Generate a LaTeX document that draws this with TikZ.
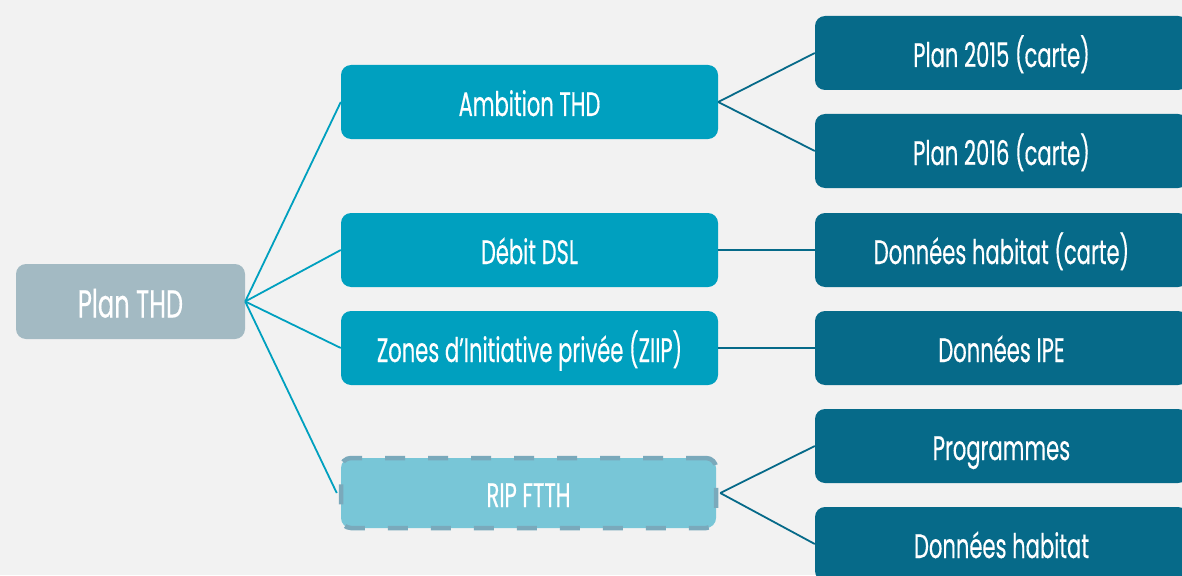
\documentclass[tikz,border=0pt]{standalone}
\usepackage{fontspec}
\setmainfont{Poppins}[FakeStretch=0.62, FakeBold=0.35]
\definecolor{bgc}{HTML}{F2F2F2}
\definecolor{rootc}{HTML}{A3BAC3}
\definecolor{midc}{HTML}{00A0BF}
\definecolor{ripc}{HTML}{78C6D7}
\definecolor{ripb}{HTML}{7AA9BB}
\definecolor{leafc}{HTML}{066A89}
\begin{document}
\begin{tikzpicture}[x=1pt,y=-1pt,
  box/.style={rounded corners=10pt, text=white, font=\fontsize{34}{36}\selectfont, inner sep=0pt, anchor=center, text height=32pt, text depth=4pt},
  rootbox/.style={box, fill=rootc, minimum width=229pt, minimum height=75pt, font=\fontsize{39}{42}\selectfont, text height=36pt, text depth=4pt},
  midbox/.style={box, fill=midc, minimum width=377pt, minimum height=74pt},
  ripbox/.style={box, fill=ripc, draw=ripb, line width=4.5pt, dash pattern=on 20pt off 23pt, minimum width=375pt, minimum height=70pt},
  leafbox/.style={box, fill=leafc, minimum width=373pt, minimum height=74pt},
  lk/.style={draw=midc, line width=1.8pt},
  lk2/.style={draw=leafc, line width=1.8pt}]
\useasboundingbox[fill=bgc] (0,0) rectangle (1182,575);
\begin{scope}
\clip (0,0) rectangle (1182,575);
\node[rootbox] (root) at (130.5,301.5) {Plan THD};
\node[midbox] (amb) at (529.5,102) {Ambition THD};
\node[midbox] (dsl) at (529.5,250) {Débit DSL};
\node[midbox] (zip) at (529.5,348) {Zones d’Initiative privée (ZIIP)};
\node[ripbox] (rip) at (528.5,493) {RIP FTTH};
\node[leafbox] (p15) at (1001.5,53) {Plan 2015 (carte)};
\node[leafbox] (p16) at (1001.5,151) {Plan 2016 (carte)};
\node[leafbox] (dhc) at (1001.5,250) {Données habitat (carte)};
\node[leafbox] (ipe) at (1001.5,348) {Données IPE};
\node[leafbox] (prg) at (1001.5,446) {Programmes};
\node[leafbox] (dh) at (1001.5,544) {Données habitat};
\draw[lk] (root.east) -- (amb.west);
\draw[lk] (root.east) -- (dsl.west);
\draw[lk] (root.east) -- (zip.west);
\draw[lk] (root.east) -- ([xshift=-2pt]rip.west);
\draw[lk2] (amb.east) -- (p15.west);
\draw[lk2] (amb.east) -- (p16.west);
\draw[lk2] (dsl.east) -- (dhc.west);
\draw[lk2] (zip.east) -- (ipe.west);
\draw[lk2] ([xshift=2pt]rip.east) -- (prg.west);
\draw[lk2] ([xshift=2pt]rip.east) -- (dh.west);
\end{scope}
\end{tikzpicture}
\end{document}
